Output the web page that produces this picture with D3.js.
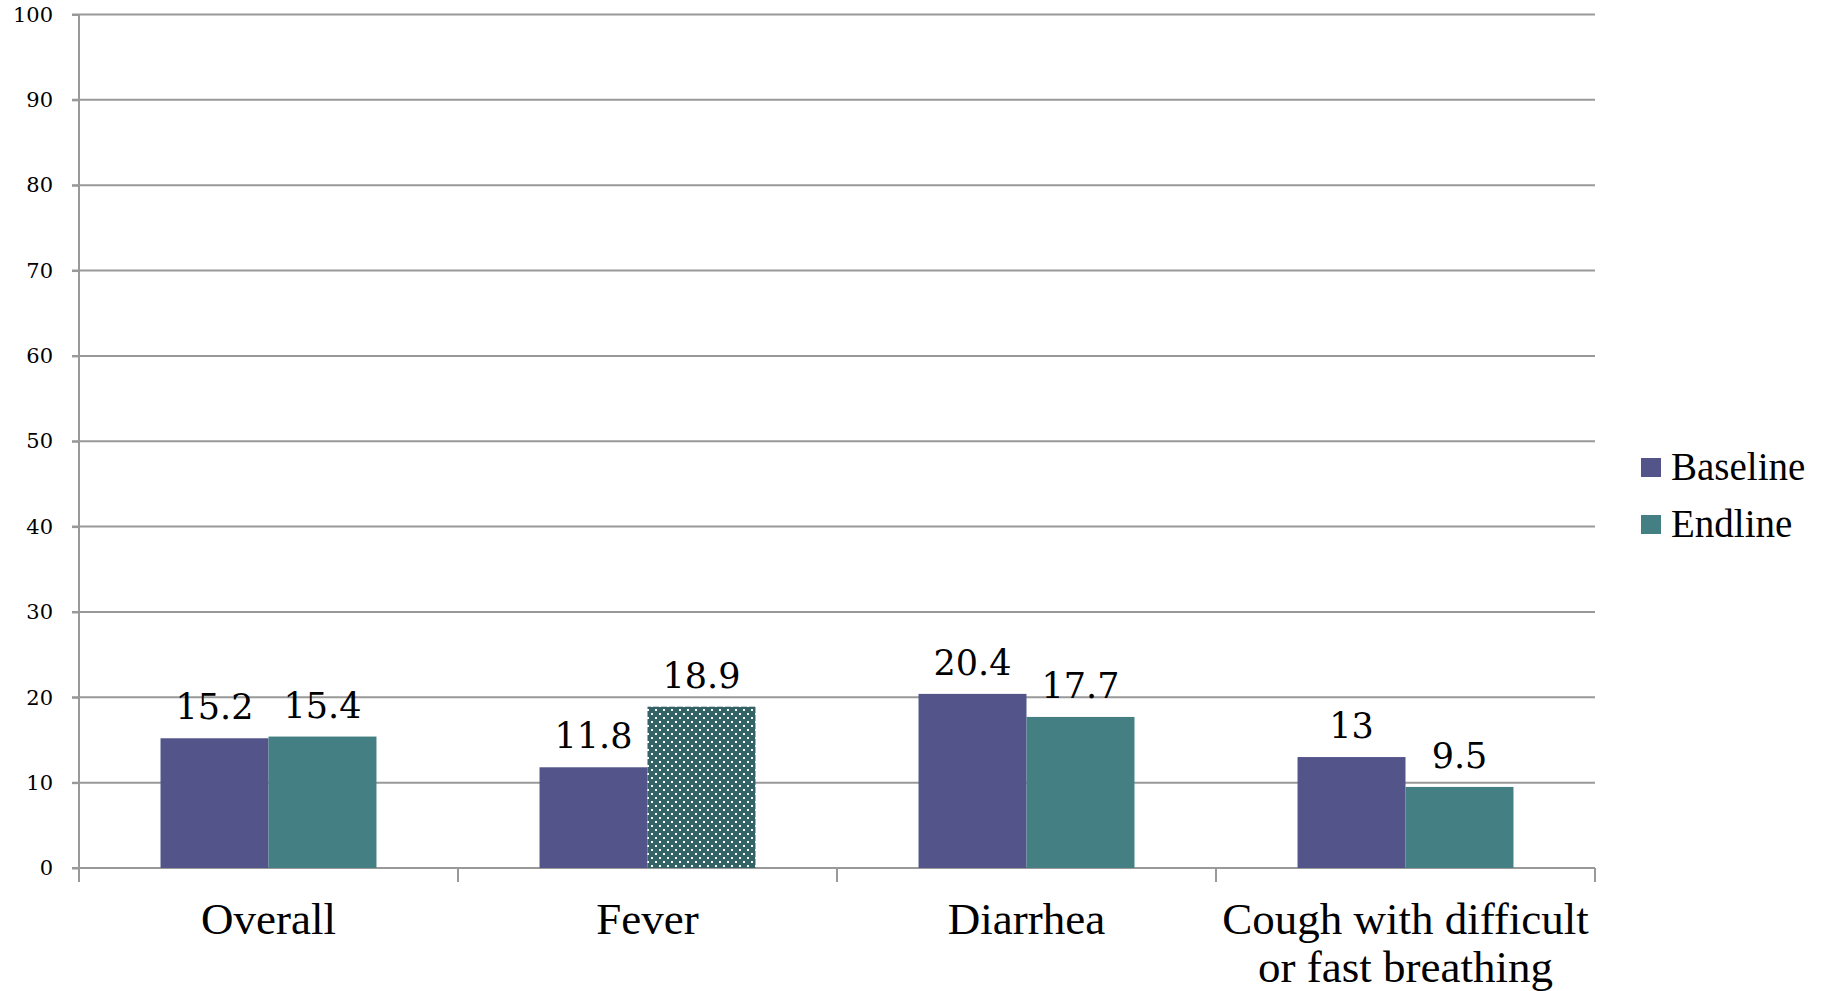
<!DOCTYPE html>
<html>
<head>
<meta charset="utf-8">
<script src="https://cdn.jsdelivr.net/npm/d3@7"></script>
<style>
  html, body { margin: 0; padding: 0; background: #ffffff; }
  svg { display: block; }
</style>
</head>
<body>
<svg id="chart" width="1823" height="991"></svg>
<script>
// Share of children with each illness (%), baseline vs endline survey
const categories = ["Overall", "Fever", "Diarrhea", "Cough with difficult or fast breathing"];
const seriesNames = ["Baseline", "Endline"];
const baselineValues = [15.2, 11.8, 20.4, 13];
const endlineValues = [15.4, 18.9, 17.7, 9.5];
const yTickValues = [0, 10, 20, 30, 40, 50, 60, 70, 80, 90, 100];

const colors = { Baseline: "#535489", Endline: "#447f84" };
const gridColor = "#999999";
const numFont = "'DejaVu Serif', Georgia, serif";
const textFont = "'Liberation Serif', 'Times New Roman', serif";

const svg = d3.select("#chart");

// Plot frame
const plotLeft = 79, plotRight = 1595, plotTop = 14.5, plotBottom = 868;

const x = d3.scaleBand().domain(categories).range([plotLeft, plotRight]).paddingInner(0).paddingOuter(0);
const x1 = d3.scaleBand().domain(seriesNames).range([0, x.bandwidth()]).paddingInner(0).paddingOuter(0.755);
const y = d3.scaleLinear().domain([0, 100]).range([plotBottom, plotTop]);

const rows = categories.map((c, i) => ({
  category: c,
  values: [
    { series: "Baseline", value: baselineValues[i] },
    { series: "Endline", value: endlineValues[i] }
  ]
}));

// Dotted fill used for the fever endline bar
const defs = svg.append("defs");
const pat = defs.append("pattern")
  .attr("id", "dots")
  .attr("patternUnits", "userSpaceOnUse")
  .attr("width", 8).attr("height", 8);
pat.append("rect").attr("width", 8).attr("height", 8).attr("fill", "#336366");
pat.append("rect").attr("x", 1).attr("y", 1).attr("width", 2).attr("height", 2).attr("fill", "#ffffff");
pat.append("rect").attr("x", 5).attr("y", 5).attr("width", 2).attr("height", 2).attr("fill", "#ffffff");

// Horizontal gridlines
svg.append("g").selectAll("line")
  .data(yTickValues)
  .join("line")
  .attr("x1", plotLeft - 7).attr("x2", plotRight)
  .attr("y1", d => y(d)).attr("y2", d => y(d))
  .attr("stroke", gridColor).attr("stroke-width", 2);

// Y axis
const yAxis = svg.append("g")
  .attr("transform", `translate(${plotLeft},0)`)
  .call(d3.axisLeft(y).tickValues(yTickValues).tickSize(7).tickPadding(19).tickFormat(d3.format("d")));
yAxis.select(".domain").attr("stroke", gridColor).attr("stroke-width", 2)
  .attr("d", `M0,${y(100)}V${plotBottom + 14}`);
yAxis.selectAll(".tick line").attr("stroke", gridColor).attr("stroke-width", 2);
yAxis.selectAll(".tick text")
  .attr("font-family", numFont).attr("font-size", 21).attr("fill", "#000");

// Category boundary ticks below the baseline
const boundaries = categories.map(c => x(c)).concat([x.range()[1]]);
svg.append("g").selectAll("line")
  .data(boundaries)
  .join("line")
  .attr("x1", d => d).attr("x2", d => d)
  .attr("y1", plotBottom).attr("y2", plotBottom + 14)
  .attr("stroke", gridColor).attr("stroke-width", 2);

// Bars
const groups = svg.append("g").selectAll("g")
  .data(rows)
  .join("g")
  .attr("transform", d => `translate(${x(d.category)},0)`);

groups.selectAll("rect")
  .data(d => d.values.map(v => ({ ...v, category: d.category })))
  .join("rect")
  .attr("x", d => x1(d.series))
  .attr("width", x1.bandwidth())
  .attr("y", d => y(d.value))
  .attr("height", d => y(0) - y(d.value))
  .attr("fill", d => (d.category === "Fever" && d.series === "Endline") ? "url(#dots)" : colors[d.series]);

// Value labels
groups.selectAll("text")
  .data(d => d.values)
  .join("text")
  .attr("x", d => x1(d.series) + x1.bandwidth() / 2)
  .attr("y", d => y(d.value) - 19)
  .attr("text-anchor", "middle")
  .attr("font-family", numFont)
  .attr("font-size", 35)
  .attr("fill", "#000")
  .text(d => String(d.value));

// Category labels, wrapped to the band width
const xLabels = svg.append("g").selectAll("text")
  .data(categories)
  .join("text")
  .attr("x", d => x(d) + x.bandwidth() / 2)
  .attr("y", 934)
  .attr("text-anchor", "middle")
  .attr("font-family", textFont)
  .attr("font-size", 45)
  .attr("fill", "#000");

xLabels.each(function(d) {
  const t = d3.select(this);
  const words = d.split(" ");
  const maxW = x.bandwidth();
  let line = [];
  let tspan = t.append("tspan").attr("x", x(d) + x.bandwidth() / 2).attr("dy", 0);
  words.forEach(w => {
    line.push(w);
    tspan.text(line.join(" "));
    if (tspan.node().getComputedTextLength() > maxW && line.length > 1) {
      line.pop();
      tspan.text(line.join(" "));
      line = [w];
      tspan = t.append("tspan").attr("x", x(d) + x.bandwidth() / 2).attr("dy", 48).text(w);
    }
  });
});

// Legend
const legend = svg.append("g").selectAll("g")
  .data(seriesNames)
  .join("g")
  .attr("transform", (d, i) => `translate(1641,${468 + i * 57})`);
legend.append("rect")
  .attr("x", 0).attr("y", -10).attr("width", 20).attr("height", 19)
  .attr("fill", d => colors[d]);
legend.append("text")
  .attr("x", 30).attr("y", 12)
  .attr("font-family", textFont)
  .attr("font-size", 39)
  .attr("fill", "#000")
  .text(d => d);
</script>
</body>
</html>
